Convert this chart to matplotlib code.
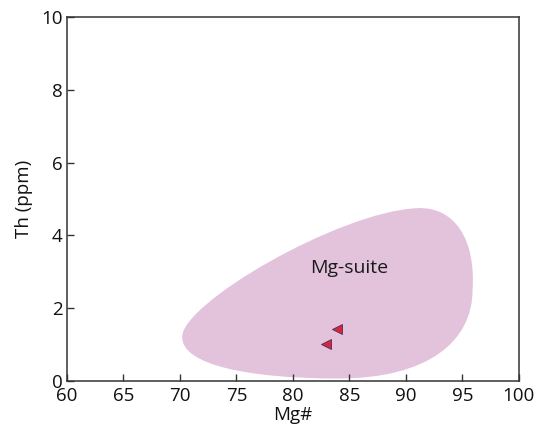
import numpy as np
import matplotlib.pyplot as plt
from matplotlib.path import Path
from matplotlib.patches import PathPatch

plt.rcParams['font.family'] = ['Open Sans', 'DejaVu Sans']

# samples (Mg#, Th ppm)
mg = [83.9, 82.9]
th = [1.44, 1.02]

# Mg-suite field outline (bezier anchors + control points, data units)
field_x = [70.2, 70.0, 84.0, 91.0, 94.3, 96.2, 95.9, 95.9, 92.0, 84.0, 76.0, 70.2, 70.2]
field_y = [1.2, 2.1, 4.65, 4.75, 4.8, 3.9, 2.5, 1.1, 0.07, 0.07, 0.07, 0.45, 1.2]
codes = [Path.MOVETO] + [Path.CURVE4] * 12

xticks = [60, 65, 70, 75, 80, 85, 90, 95, 100]
yticks = [0, 2, 4, 6, 8, 10]

fig = plt.figure(figsize=(5.36, 4.37), dpi=100)
ax = fig.add_axes([0.125, 0.128, 0.843, 0.833])

field = PathPatch(Path(np.column_stack([field_x, field_y]), codes),
                  facecolor='#e2c3db', edgecolor='none', zorder=1)
ax.add_patch(field)
ax.text(85.0, 3.1, 'Mg-suite', fontsize=14, ha='center', va='center', color='#1a1a1a')

ax.plot(mg, th, linestyle='none', marker='<', markersize=7.5,
        markerfacecolor='#d8253f', markeredgecolor='#4a3050', markeredgewidth=0.6, zorder=3)

ax.set_xlim(60, 100)
ax.set_ylim(0, 10)
ax.set_xticks(xticks)
ax.set_yticks(yticks)
ax.tick_params(direction='in', length=5, width=1, colors='#333333', labelsize=13.5,
               labelcolor='#111111')
ax.tick_params(axis='x', pad=4)
ax.tick_params(axis='y', pad=3)
for s in ax.spines.values():
    s.set_color('#333333')
    s.set_linewidth(1.1)
ax.set_xlabel('Mg#', fontsize=13.5, color='#111111', labelpad=1)
ax.set_ylabel('Th (ppm)', fontsize=13.5, color='#111111', labelpad=6)

fig.savefig('out.png', dpi=100)
